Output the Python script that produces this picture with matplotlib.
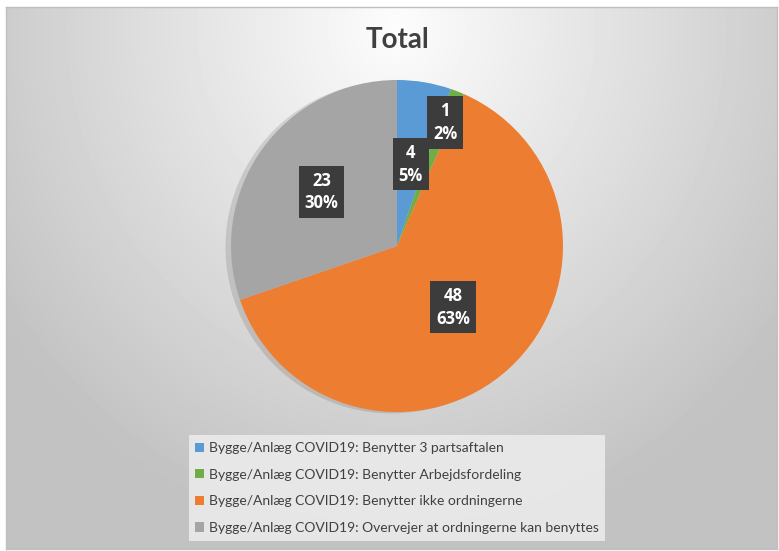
import numpy as np
import matplotlib
matplotlib.use("Agg")
import matplotlib.pyplot as plt
import matplotlib.patches as mpatches

# data
categories = [
    "Bygge/Anlæg COVID19: Benytter 3 partsaftalen",
    "Bygge/Anlæg COVID19: Benytter Arbejdsfordeling",
    "Bygge/Anlæg COVID19: Benytter ikke ordningerne",
    "Bygge/Anlæg COVID19: Overvejer at ordningerne kan benyttes",
]
counts = [4, 1, 48, 23]
pct_labels = ["5%", "2%", "63%", "30%"]
colors = ["#5b9bd5", "#70ad47", "#ed7d31", "#a5a5a5"]
label_dist = [0.5, 0.8, 0.5, 0.56]

W, H = 779, 551
fig = plt.figure(figsize=(W / 100, H / 100), dpi=100)
fig.patch.set_facecolor("white")

# background gradient
bg = fig.add_axes([6 / W, 2 / H, 771 / W, 542 / H])
yy, xx = np.mgrid[0:542, 0:771]
d = np.sqrt(((xx - 390) / 500.0) ** 2 + ((yy - 20) / 540.0) ** 2)
shade = np.clip(0.99 - 0.24 * d, 0.76, 1.0)
bg.imshow(shade, cmap="gray", vmin=0, vmax=1, aspect="auto", interpolation="bilinear")
bg.set_xticks([])
bg.set_yticks([])
for s in bg.spines.values():
    s.set_color("#bfbfbf")
    s.set_linewidth(1)

# pie
cx, cy, R = 397, 246, 166
box = 180
ax = fig.add_axes([(cx - box) / W, (H - cy - box) / H, 2 * box / W, 2 * box / H])
wedges, _ = ax.pie(counts, colors=colors, startangle=90, counterclock=False,
                   radius=R, shadow={"ox": -4, "oy": -1, "shade": 0.7, "alpha": 0.15},
                   wedgeprops={"linewidth": 0})
ax.set_xlim(-box, box)
ax.set_ylim(-box, box)
ax.set_aspect("equal")
ax.axis("off")
for w, n, p, r in zip(wedges, counts, pct_labels, label_dist):
    ang = np.deg2rad((w.theta1 + w.theta2) / 2)
    ax.text(r * R * np.cos(ang), r * R * np.sin(ang), f"{n}\n{p}",
            ha="center", va="center", color="white", fontsize=12, fontweight="bold",
            family="Open Sans", linespacing=1.35,
            bbox=dict(boxstyle="square,pad=0.35", facecolor="#3c3c3c", edgecolor="none"))

fig.text(397 / W, 1 - 40 / H, "Total", ha="center", va="center", fontsize=20,
         fontweight="bold", color="#404040", family="Lato")

handles = [mpatches.Patch(facecolor=c, edgecolor="none") for c in colors]
leg = fig.legend(handles, categories, loc="center", bbox_to_anchor=(397 / W, 1 - 488 / H),
                 ncol=1, frameon=True, fancybox=False, prop={"family": "Lato", "size": 10},
                 handlelength=0.65, handleheight=0.65, handletextpad=0.3,
                 labelspacing=1.05, borderpad=0.5, labelcolor="#404040")
leg.get_frame().set_facecolor("#ebebeb")
leg.get_frame().set_edgecolor("none")
leg.get_frame().set_alpha(0.9)

fig.savefig("out.png", dpi=100)
